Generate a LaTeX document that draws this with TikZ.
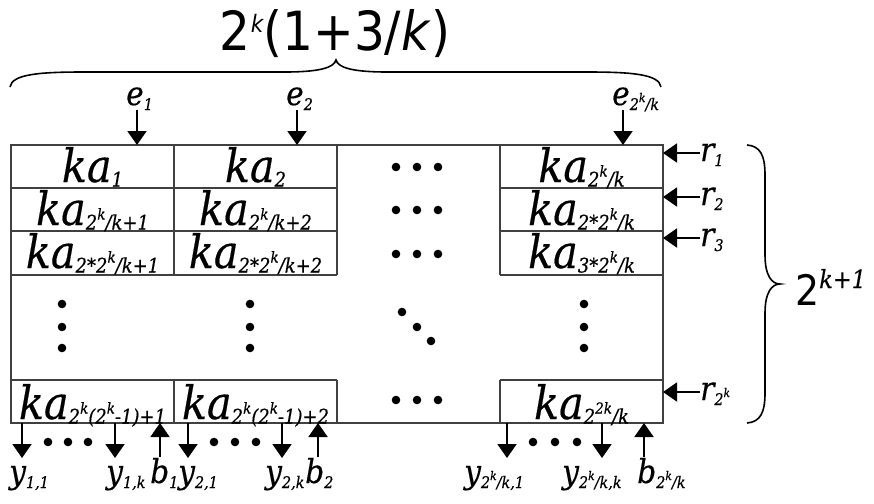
\documentclass[tikz,border=0pt]{standalone}
\usepackage{fontspec}
\setmainfont{DejaVu Serif}[FakeStretch=0.9,FakeBold=0.4]
\newfontfamily\sansf{DejaVu Sans}[FakeStretch=0.9]
\usetikzlibrary{arrows.meta}
\newcommand\kasub[1]{\lower4.5pt\hbox{\fontsize{20}{20}\selectfont\itshape #1}}
\newcommand\kasup[1]{\raise10pt\hbox{\fontsize{15}{15}\selectfont\itshape #1}}
\newcommand\KA[1]{{\fontsize{46}{46}\selectfont\itshape ka}\kasub{#1}}
\newcommand\lbsub[1]{\lower5pt\hbox{\fontsize{16}{16}\selectfont\itshape #1}}
\newcommand\lbsup[1]{\raise8pt\hbox{\fontsize{12}{12}\selectfont\itshape #1}}
\newcommand\LBL[2]{{\fontsize{33}{33}\selectfont\itshape #1}\lbsub{#2}}
\begin{document}
\begin{tikzpicture}[x=1pt,y=-1pt,
  box/.style={line width=1.3pt, draw=black!75},
  arr/.style={line width=2pt, -{Triangle[length=14pt,width=19pt]}},
  brc/.style={line width=1.6pt},
  cellt/.style={anchor=base, inner sep=0pt},
  lab/.style={anchor=base west, inner sep=0pt},
  dotf/.style={fill=black}]
\useasboundingbox (0,0) rectangle (874,503);
% grid
\draw[box] (11,145) rectangle (663,423);
\draw[box] (11,188) -- (337,188) (11,231) -- (337,231) (11,275) -- (337,275) (11,380) -- (337,380);
\draw[box] (500,188) -- (663,188) (500,231) -- (663,231) (500,275) -- (663,275) (500,380) -- (663,380);
\draw[box] (174,145) -- (174,275) (337,145) -- (337,275) (500,145) -- (500,275);
\draw[box] (174,380) -- (174,423) (337,380) -- (337,423) (500,380) -- (500,423);
% cell texts
\node[cellt] (c11) at (92.5,182) {\KA{1}};
\node[cellt] (c12) at (255.5,182) {\KA{2}};
\node[cellt] (c14) at (581.5,182) {\KA{2\kasup{k}/k}};
\node[cellt] (c21) at (92.5,225) {\KA{2\kasup{k}/k+1}};
\node[cellt] (c22) at (255.5,225) {\KA{2\kasup{k}/k+2}};
\node[cellt] (c24) at (581.5,225) {\KA{2*2\kasup{k}/k}};
\node[cellt] (c31) at (92.5,268) {\KA{2*2\kasup{k}/k+1}};
\node[cellt] (c32) at (255.5,268) {\KA{2*2\kasup{k}/k+2}};
\node[cellt] (c34) at (581.5,268) {\KA{3*2\kasup{k}/k}};
\node[cellt] (c41) at (92.5,419) {\KA{2\kasup{k}(2\kasup{k}-1)+1}};
\node[cellt] (c42) at (255.5,419) {\KA{2\kasup{k}(2\kasup{k}-1)+2}};
\node[cellt] (c44) at (581.5,419) {\KA{2\kasup{2k}/k}};
% dots
\foreach \yy in {167,210,254,400} \foreach \xx in {396,417,438} \fill[dotf] (\xx,\yy) circle[radius=4.3pt];
\foreach \xx in {62,250,584} \foreach \yy in {304,327,348} \fill[dotf] (\xx,\yy) circle[radius=4.3pt];
\fill[dotf] (402,312) circle[radius=4.3pt] (417,327) circle[radius=4.3pt] (431,341) circle[radius=4.3pt];
\foreach \xx in {48,68,88,214,235,256,533,555,577} \fill[dotf] (\xx,442) circle[radius=4.3pt];
% top labels and arrows
\node[lab] (e1) at (126,105) {\LBL{e}{1}};
\node[lab] (e2) at (286,105) {\LBL{e}{2}};
\node[lab] (e3) at (612,105) {\LBL{e}{2\lbsup{k}/k}};
\coordinate (e1s) at (137,110); \coordinate (e1t) at (137,145);
\coordinate (e2s) at (297,110); \coordinate (e2t) at (297,145);
\coordinate (e3s) at (623,110); \coordinate (e3t) at (623,145);
\draw[arr] (e1s) -- (e1t);
\draw[arr] (e2s) -- (e2t);
\draw[arr] (e3s) -- (e3t);
% right labels and arrows
\node[lab] (r1) at (700,161) {\LBL{r}{1}};
\node[lab] (r2) at (700,205) {\LBL{r}{2}};
\node[lab] (r3) at (700,246) {\LBL{r}{3}};
\node[lab] (r4) at (700,400) {\LBL{r}{2\lbsup{k}}};
\foreach \nm/\yy in {1/153,2/197,3/238,4/392} {
  \coordinate (r\nm s) at (700,\yy); \coordinate (r\nm t) at (663,\yy);
  \draw[arr] (r\nm s) -- (r\nm t);
}
% bottom labels
\node[lab] (y11) at (9,483) {\LBL{y}{1,1}};
\node[lab] (y1k) at (106,483) {\LBL{y}{1,k}};
\node[lab] (b1) at (150,483) {\LBL{b}{1}};
\node[lab] (y21) at (178,483) {\LBL{y}{2,1}};
\node[lab] (y2k) at (265,483) {\LBL{y}{2,k}};
\node[lab] (b2) at (305,483) {\LBL{b}{2}};
\node[lab] (yn1) at (464,483) {\LBL{y}{2\lbsup{k}/k,1}};
\node[lab] (ynk) at (562,483) {\LBL{y}{2\lbsup{k}/k,k}};
\node[lab] (bn) at (637,483) {\LBL{b}{2\lbsup{k}/k}};
% bottom arrows
\foreach \nm/\xx in {a/22,b/115,c/188,d/282,e/507,f/602} {
  \coordinate (d\nm s) at (\xx,423); \coordinate (d\nm t) at (\xx,458);
  \draw[arr] (d\nm s) -- (d\nm t);
}
\foreach \nm/\xx in {a/160,b/318,c/644} {
  \coordinate (u\nm s) at (\xx,457); \coordinate (u\nm t) at (\xx,423);
  \draw[arr] (u\nm s) -- (u\nm t);
}
% top brace
\draw[brc] (10,87) .. controls (12,74) and (40,72) .. (85,72) -- (285,72)
  .. controls (318,72) and (334,68) .. (336,60)
  .. controls (338,68) and (354,72) .. (387,72) -- (586,72)
  .. controls (631,72) and (659,74) .. (661,87);
\node[anchor=base, inner sep=0pt] (tt) at (335,51) {\sansf\fontsize{54}{54}\selectfont 2\raise18pt\hbox{\fontsize{24}{24}\selectfont\itshape k}(1+3/\textit{k})};
% right brace
\draw[brc] (747,145) .. controls (760,146) and (765,155) .. (765,175) -- (765,255)
  .. controls (765,276) and (772,284) .. (780,284)
  .. controls (772,284) and (765,292) .. (765,313) -- (765,393)
  .. controls (765,413) and (760,422) .. (747,423);
\node[anchor=base west, inner sep=0pt] (rt) at (795,305) {\sansf\fontsize{42}{42}\selectfont 2\raise17pt\hbox{\rmfamily\fontsize{25}{25}\selectfont\itshape k+1}};
\end{tikzpicture}
\end{document}
